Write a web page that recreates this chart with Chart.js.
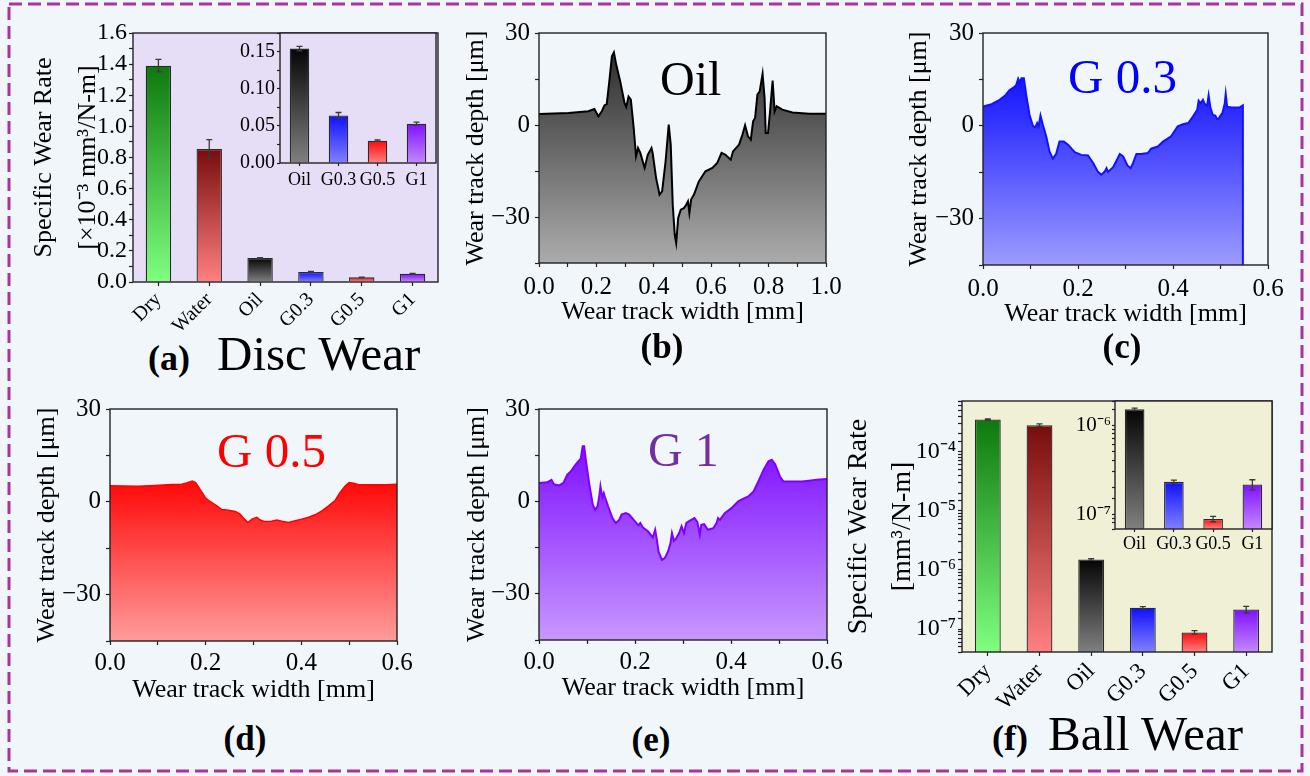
<!DOCTYPE html>
<html><head><meta charset="utf-8">
<script src="https://cdn.jsdelivr.net/npm/chart.js@4.4.1/dist/chart.umd.min.js"></script>
<style>
html,body{margin:0;padding:0;background:#F1F6FA;}
#wrap{position:relative;width:1310px;height:776px;overflow:hidden;font-family:"Liberation Serif","Times New Roman",serif;}
canvas{position:absolute;}
.lbl{position:absolute;line-height:1;white-space:nowrap;color:#000;}
.c{transform:translateX(-50%);}
.b{font-weight:bold;}
</style></head><body><div id="wrap">
<svg width="1310" height="776" style="position:absolute;left:0;top:0">
<rect x="9" y="4" width="1293" height="767" fill="none" stroke="#A8359F" stroke-width="3" stroke-dasharray="13 6"/>
</svg>
<canvas id="cA" style="left:15px;top:15px" width="433" height="320"></canvas>
<canvas id="cAi" style="left:222px;top:15px" width="216" height="185"></canvas>
<canvas id="cB" style="left:455px;top:13px" width="396" height="325"></canvas>
<canvas id="cC" style="left:898px;top:13px" width="395" height="327"></canvas>
<canvas id="cD" style="left:26px;top:389px" width="396" height="327"></canvas>
<canvas id="cE" style="left:455px;top:389px" width="397" height="327"></canvas>
<canvas id="cF" style="left:835px;top:383px" width="447" height="325"></canvas>
<canvas id="cFi" style="left:1060px;top:383px" width="214" height="171"></canvas>

<div class="lbl b" style="left:148px;top:340px;font-size:36px">(a)</div>
<div class="lbl" style="left:217px;top:329px;font-size:49px">Disc Wear</div>
<div class="lbl b c" style="left:662px;top:329px;font-size:35px">(b)</div>
<div class="lbl b c" style="left:1122px;top:329px;font-size:35px">(c)</div>
<div class="lbl b c" style="left:245px;top:721px;font-size:35px">(d)</div>
<div class="lbl b c" style="left:651px;top:722px;font-size:35px">(e)</div>
<div class="lbl b" style="left:992px;top:720px;font-size:36px">(f)</div>
<div class="lbl" style="left:1048px;top:709px;font-size:49px">Ball Wear</div>
<div class="lbl" style="left:660px;top:55px;font-size:48px">Oil</div>
<div class="lbl" style="left:1068px;top:52px;font-size:49px;color:#0000FF">G 0.3</div>
<div class="lbl" style="left:217px;top:426px;font-size:49px;color:#FF0000">G 0.5</div>
<div class="lbl" style="left:648px;top:426px;font-size:48px;color:#7030A0">G 1</div>
</div>
<script>
// ---------------- DATA ----------------
const wearCategories = ['Dry','Water','Oil','G0.3','G0.5','G1'];
const discWearRate = [1.39, 0.855, 0.154, 0.064, 0.030, 0.053];
const discWearErr  = [0.04, 0.06, 0.003, 0.004, 0.001, 0.002];
const insetCategories = ['Oil','G0.3','G0.5','G1'];
const discInsetRate = [0.154, 0.064, 0.030, 0.053];
const discInsetErr  = [0.003, 0.004, 0.001, 0.002];
const ballWearRate = [3.5e-4, 2.8e-4, 1.5e-6, 2.3e-7, 8.8e-8, 2.15e-7];
const ballWearErr  = [1.0e-5, 1.5e-5, 5e-8, 1e-8, 6e-9, 2.8e-8];
const ballInsetRate = [1.5e-6, 2.3e-7, 8.8e-8, 2.15e-7];
const ballInsetErr  = [5e-8, 1e-8, 6e-9, 2.8e-8];

const discTickValues = [0,0.1,0.2,0.3,0.4,0.5,0.6,0.7,0.8,0.9,1.0,1.1,1.2,1.3,1.4,1.5,1.6];
const discTickLabels = ['0.0','','0.2','','0.4','','0.6','','0.8','','1.0','','1.2','','1.4','','1.6'];
const discInsetTickValues = [0,0.025,0.05,0.075,0.1,0.125,0.15,0.175];
const discInsetTickLabels = ['0.00','','0.05','','0.10','','0.15',''];
const depthTickValues = [-45,-30,-15,0,15,30];
const depthTickLabels = ['','\u221230','','0','','30'];
const width1TickValues = [0,0.1,0.2,0.3,0.4,0.5,0.6,0.7,0.8,0.9,1.0];
const width1TickLabels = ['0.0','','0.2','','0.4','','0.6','','0.8','','1.0'];
const width06TickValues = [0,0.1,0.2,0.3,0.4,0.5,0.6];
const width06TickLabels = ['0.0','','0.2','','0.4','','0.6'];

// profiles: [width mm, depth um]
const oilProfile = [[0,3.6],[0.103,3.9],[0.172,4.5],[0.193,5.2],[0.207,2.8],[0.219,4.5],[0.228,6.4],[0.236,6.8],[0.245,14.2],[0.254,22.4],[0.261,23.7],[0.269,19.7],[0.283,14.2],[0.298,7.2],[0.304,5.9],[0.312,9.3],[0.320,8.3],[0.330,-1.0],[0.338,-10.2],[0.345,-7.5],[0.353,-9.1],[0.368,-14.0],[0.379,-9.7],[0.392,-7.5],[0.396,-9.1],[0.408,-17.3],[0.420,-22.7],[0.429,-21.6],[0.441,-11.9],[0.452,0.1],[0.459,-6.4],[0.466,-26.0],[0.473,-35.8],[0.478,-38.5],[0.485,-30.3],[0.494,-27.6],[0.505,-27.1],[0.513,-26.0],[0.519,-24.9],[0.524,-28.7],[0.530,-24.3],[0.540,-22.7],[0.557,-18.4],[0.580,-15.1],[0.604,-14.0],[0.621,-12.4],[0.636,-9.1],[0.650,-9.7],[0.668,-11.3],[0.676,-8.6],[0.697,-6.4],[0.709,-3.1],[0.718,-0.1],[0.728,-3.7],[0.738,-4.8],[0.746,1.2],[0.753,2.3],[0.761,9.9],[0.769,11.0],[0.779,16.7],[0.786,8.8],[0.790,-2.6],[0.798,-2.6],[0.805,4.4],[0.814,14.5],[0.821,4.4],[0.828,6.1],[0.848,5.0],[0.883,4.1],[0.942,3.7],[1.0,3.7]];
const g03Profile = [[0,6.2],[0.018,7.0],[0.035,8.4],[0.046,9.7],[0.056,11.6],[0.065,12.4],[0.070,13.2],[0.074,15.2],[0.077,14.1],[0.081,15.4],[0.086,15.4],[0.091,10.0],[0.098,3.5],[0.105,0],[0.110,-0.5],[0.114,0.9],[0.117,-0.2],[0.121,3.3],[0.126,0.3],[0.133,-3.4],[0.140,-8.3],[0.147,-10.6],[0.154,-9.1],[0.161,-5.1],[0.170,-5.1],[0.179,-6.1],[0.193,-8.5],[0.207,-9.4],[0.221,-9.6],[0.232,-12.0],[0.242,-14.9],[0.249,-15.8],[0.256,-14.9],[0.260,-13.7],[0.263,-14.9],[0.274,-13.4],[0.281,-11.3],[0.288,-9.1],[0.295,-9.9],[0.304,-12.8],[0.311,-13.7],[0.316,-12.0],[0.323,-9.1],[0.333,-9.1],[0.347,-8.8],[0.354,-7.4],[0.368,-6.7],[0.379,-5.1],[0.396,-3.4],[0.410,-0.2],[0.421,0.5],[0.432,0.9],[0.442,3.0],[0.451,5.2],[0.454,8.1],[0.458,7.3],[0.463,8.4],[0.467,7.0],[0.472,6.6],[0.475,9.8],[0.479,5.7],[0.484,3.5],[0.489,3.3],[0.493,2.2],[0.496,2.3],[0.500,3.3],[0.504,4.1],[0.509,7.3],[0.511,10.3],[0.514,6.2],[0.523,5.9],[0.540,5.9],[0.547,6.6],[0.5471,-45]];
const g05Profile = [[0,5.2],[0.059,5.0],[0.094,5.3],[0.129,5.6],[0.150,5.7],[0.160,6.1],[0.172,6.7],[0.179,6.2],[0.188,4.1],[0.199,1.4],[0.209,0.1],[0.223,-1.3],[0.234,-2.5],[0.248,-2.7],[0.262,-3.1],[0.272,-4.0],[0.281,-5.6],[0.288,-6.7],[0.297,-5.6],[0.307,-5.0],[0.314,-5.9],[0.324,-6.4],[0.338,-6.3],[0.349,-5.9],[0.359,-6.3],[0.373,-6.7],[0.387,-6.1],[0.401,-5.6],[0.415,-5.0],[0.429,-4.2],[0.443,-2.9],[0.457,-1.3],[0.471,0.5],[0.481,3.0],[0.492,5.2],[0.500,6.2],[0.509,6.0],[0.520,5.5],[0.548,5.5],[0.576,5.5],[0.6,5.7]];
const g1Profile = [[0,6.0],[0.017,6.2],[0.026,7.0],[0.031,5.6],[0.042,5.2],[0.051,6.0],[0.059,8.7],[0.066,9.7],[0.077,12.1],[0.087,13.9],[0.091,17.9],[0.094,17.9],[0.098,13.0],[0.105,5.4],[0.112,-1.1],[0.117,-2.7],[0.122,-1.6],[0.126,2.2],[0.128,4.9],[0.132,1.3],[0.135,2.7],[0.137,1.6],[0.144,-1.6],[0.153,-5.4],[0.160,-7.0],[0.167,-6.0],[0.172,-4.3],[0.181,-3.8],[0.188,-4.3],[0.199,-6.3],[0.207,-7.8],[0.211,-7.0],[0.216,-8.4],[0.227,-9.7],[0.237,-11.7],[0.242,-9.2],[0.245,-11.9],[0.249,-16.2],[0.256,-19.0],[0.262,-18.4],[0.269,-16.2],[0.274,-13.5],[0.277,-10.3],[0.281,-12.8],[0.286,-11.9],[0.292,-10.3],[0.297,-8.1],[0.302,-10.3],[0.307,-7.0],[0.317,-6.0],[0.324,-5.4],[0.330,-6.7],[0.335,-10.8],[0.338,-7.6],[0.344,-7.4],[0.352,-9.2],[0.363,-8.7],[0.370,-7.0],[0.373,-5.4],[0.377,-6.0],[0.387,-3.8],[0.401,-2.2],[0.415,0],[0.426,0.9],[0.436,1.6],[0.447,3.2],[0.457,6.5],[0.468,10.3],[0.478,13.0],[0.485,13.5],[0.492,12.1],[0.502,8.1],[0.509,6.5],[0.520,6.5],[0.548,6.5],[0.562,6.7],[0.579,7.0],[0.6,7.3]];

// ---------------- STYLE ----------------
const barDark  = {Dry:'#0e780e', Water:'#780c0c', Oil:'#050505', 'G0.3':'#1010ff', 'G0.5':'#ff0a0a', G1:'#7f10ff'};
const barLight = {Dry:'#80ff80', Water:'#ff8080', Oil:'#808080', 'G0.3':'#8080ff', 'G0.5':'#ff8080', G1:'#c488ff'};

Chart.defaults.font.family = '"Liberation Serif", "Times New Roman", serif';
Chart.defaults.color = '#000';
Chart.defaults.animation = false;

const framePlugin = {
  id: 'frame',
  beforeDraw(chart, args, opts) {
    const a = chart.chartArea, ctx = chart.ctx;
    if (opts.bg) { ctx.save(); ctx.fillStyle = opts.bg; ctx.fillRect(a.left, a.top, a.width, a.height); ctx.restore(); }
  },
  afterDraw(chart, args, opts) {
    const a = chart.chartArea, ctx = chart.ctx;
    ctx.save(); ctx.strokeStyle = '#222'; ctx.lineWidth = 1.4;
    ctx.strokeRect(a.left, a.top, a.width, a.height); ctx.restore();
  }
};
const errPlugin = {
  id: 'errbars',
  afterDatasetsDraw(chart, args, opts) {
    if (!opts.errors) return;
    const meta = chart.getDatasetMeta(0), ys = chart.scales.y, ctx = chart.ctx;
    const vals = chart.data.datasets[0].data;
    ctx.save(); ctx.strokeStyle = '#3a3a3a'; ctx.lineWidth = 1.3;
    meta.data.forEach((el, i) => {
      const e = opts.errors[i], v = vals[i];
      const y1 = ys.getPixelForValue(v + e), y2 = ys.getPixelForValue(v - e), x = el.x;
      ctx.beginPath(); ctx.moveTo(x, y1); ctx.lineTo(x, y2);
      ctx.moveTo(x - 3, y1); ctx.lineTo(x + 3, y1);
      ctx.moveTo(x - 3, y2); ctx.lineTo(x + 3, y2); ctx.stroke();
    });
    ctx.restore();
  }
};
Chart.register(framePlugin, errPlugin);

const gridOpts = (len) => ({display:true, drawOnChartArea:false, drawTicks:true, tickLength:len, tickColor:'#222', tickWidth:1.2, offset:false});

function linAxis(o) {
  return {
    type:'linear', min:o.min, max:o.max,
    afterBuildTicks: s => { s.ticks = o.values.map(v => ({value:v})); },
    afterFit: s => { if (s.isHorizontal()) s.height = o.fit; else s.width = o.fit; },
    ticks: {autoSkip:false, minRotation:0, maxRotation:0, font:{size:o.font}, padding:o.pad, color:'#000',
      callback: (v, i) => o.labels[i]},
    grid: gridOpts(o.tl),
    border: {display:false},
    title: o.title || {display:false}
  };
}

function catAxis(labels, fit, font, rot, tl, pad) {
  return {
    type:'category', labels, offset:true,
    afterFit: s => { s.height = fit; },
    ticks: {autoSkip:false, minRotation:rot, maxRotation:rot, font:{size:font}, padding:pad, color:'#000'},
    grid: gridOpts(tl), border:{display:false}
  };
}

function supExp(n) {
  const m = {'-':'\u207B','0':'\u2070','1':'\u00B9','2':'\u00B2','3':'\u00B3','4':'\u2074','5':'\u2075','6':'\u2076','7':'\u2077','8':'\u2078','9':'\u2079'};
  return String(n).split('').map(c => m[c]).join('');
}
function logLabel(v) {
  const l = Math.log10(v);
  return Math.abs(l - Math.round(l)) < 1e-6 ? '10' + supExp(Math.round(l)) : '';
}
function logAxis(o) {
  return {
    type:'logarithmic', min:o.min, max:o.max,
    afterFit: s => { s.width = o.fit; },
    ticks: {autoSkip:false, font:{size:o.font}, padding:o.pad, color:'#000', callback: v => logLabel(v)},
    grid: gridOpts(o.tl), border:{display:false},
    title: o.title || {display:false}
  };
}

function barGradient(cats) {
  return (c) => {
    const chart = c.chart, a = chart.chartArea, name = cats[c.dataIndex];
    if (!a || c.type !== 'data') return barDark[name];
    const top = chart.scales.y.getPixelForValue(c.raw);
    const g = chart.ctx.createLinearGradient(0, top, 0, a.bottom);
    g.addColorStop(0, barDark[name]); g.addColorStop(1, barLight[name]);
    return g;
  };
}

function barChart(id, cats, vals, errs, xAxis, yAxis, pad, bg) {
  new Chart(document.getElementById(id), {
    type:'bar',
    data:{labels:cats, datasets:[{data:vals, backgroundColor:barGradient(cats), borderColor:'#2a2a2a', borderWidth:1.3, barPercentage:0.5, categoryPercentage:1.0}]},
    options:{responsive:false, animation:false, layout:{padding:pad},
      plugins:{legend:{display:false}, tooltip:{enabled:false}, frame:{bg}, errbars:{errors:errs}},
      scales:{x:xAxis, y:yAxis}}
  });
}

// (a) Disc wear
barChart('cA', wearCategories, discWearRate, discWearErr,
  catAxis(wearCategories, 53, 20, 45, 4, 2),
  linAxis({min:0, max:1.6, values:discTickValues, labels:discTickLabels, font:24, pad:2, tl:4, fit:118,
    title:{display:true, text:['Specific Wear Rate','[\u00D710\u207B\u00B3 mm\u00B3/N-m]'], font:{size:26, lineHeight:1.7}, padding:{top:7,bottom:0}, color:'#000'}}),
  {left:0, top:18, right:10, bottom:0}, '#E6DEF6');
barChart('cAi', insetCategories, discInsetRate, discInsetErr,
  catAxis(insetCategories, 37, 18, 0, 3, 3),
  linAxis({min:0, max:0.175, values:discInsetTickValues, labels:discInsetTickLabels, font:20, pad:2, tl:3, fit:58}),
  {left:0, top:18, right:2, bottom:0}, '#E6DEF6');

// (f) Ball wear
barChart('cF', wearCategories, ballWearRate, ballWearErr,
  catAxis(wearCategories, 56, 23, 45, 4, 2),
  logAxis({min:4.1e-8, max:7.2e-4, font:24, pad:2, tl:4, fit:127,
    title:{display:true, text:['Specific Wear Rate','[mm\u00B3/N-m]'], font:{size:28, lineHeight:1.57}, padding:{top:2,bottom:0}, color:'#000'}}),
  {left:0, top:18, right:10, bottom:0}, '#F0F0D6');
barChart('cFi', insetCategories, ballInsetRate, ballInsetErr,
  catAxis(insetCategories, 25, 18, 0, 3, 1),
  logAxis({min:6.8e-8, max:1.86e-6, font:21, pad:1, tl:3, fit:55}),
  {left:0, top:18, right:2, bottom:0}, '#F0F0D6');

// profiles
function profileChart(id, profile, xVals, xLabels, xMax, cfg) {
  const data = profile.map(p => ({x:p[0], y:p[1]}));
  const peak = Math.max(...profile.map(p => p[1]));
  new Chart(document.getElementById(id), {
    type:'line',
    data:{datasets:[{data, borderColor:cfg.line, borderWidth:cfg.lw, pointRadius:0, tension:0, fill:'start',
      backgroundColor: c => {
        const chart = c.chart, a = chart.chartArea;
        if (!a) return cfg.top;
        const t = chart.scales.y.getPixelForValue(peak);
        const g = chart.ctx.createLinearGradient(0, t, 0, a.bottom);
        g.addColorStop(0, cfg.top); g.addColorStop(1, cfg.bottom); return g;
      }}]},
    options:{responsive:false, animation:false, layout:{padding:{left:0, top:20, right:25, bottom:0}},
      plugins:{legend:{display:false}, tooltip:{enabled:false}},
      scales:{
        x: linAxis({min:0, max:xMax, values:xVals, labels:xLabels, font:25, pad:cfg.xpad, tl:4, fit:cfg.xfit,
          title:{display:true, text:'Wear track width [mm]', font:{size:26}, padding:{top:0,bottom:cfg.xtp}, color:'#000'}}),
        y: linAxis({min:-45, max:30, values:depthTickValues, labels:depthTickLabels, font:25, pad:5, tl:4, fit:cfg.yfit,
          title:{display:true, text:'Wear track depth [\u03BCm]', font:{size:26}, padding:{top:cfg.ytp,bottom:0}, color:'#000'}})
      }}
  });
}
profileChart('cB', oilProfile, width1TickValues, width1TickLabels, 1.0,
  {line:'#000', lw:2, top:'#2e2e2e', bottom:'#acacac', xpad:5, xfit:75, xtp:10, yfit:84, ytp:6});
profileChart('cC', g03Profile, width06TickValues, width06TickLabels, 0.6,
  {line:'#1212ff', lw:2, top:'#1414ff', bottom:'#9c9cff', xpad:5, xfit:75, xtp:10, yfit:85, ytp:6});
profileChart('cD', g05Profile, width06TickValues, width06TickLabels, 0.6,
  {line:'#ff0000', lw:1.5, top:'#ff0808', bottom:'#ff9c9c', xpad:3, xfit:75, xtp:10, yfit:84, ytp:6});
profileChart('cE', g1Profile, width06TickValues, width06TickLabels, 0.6,
  {line:'#8000ff', lw:2, top:'#7f10ff', bottom:'#c898ff', xpad:3, xfit:76, xtp:12, yfit:84, ytp:7});
</script>
</body></html>
